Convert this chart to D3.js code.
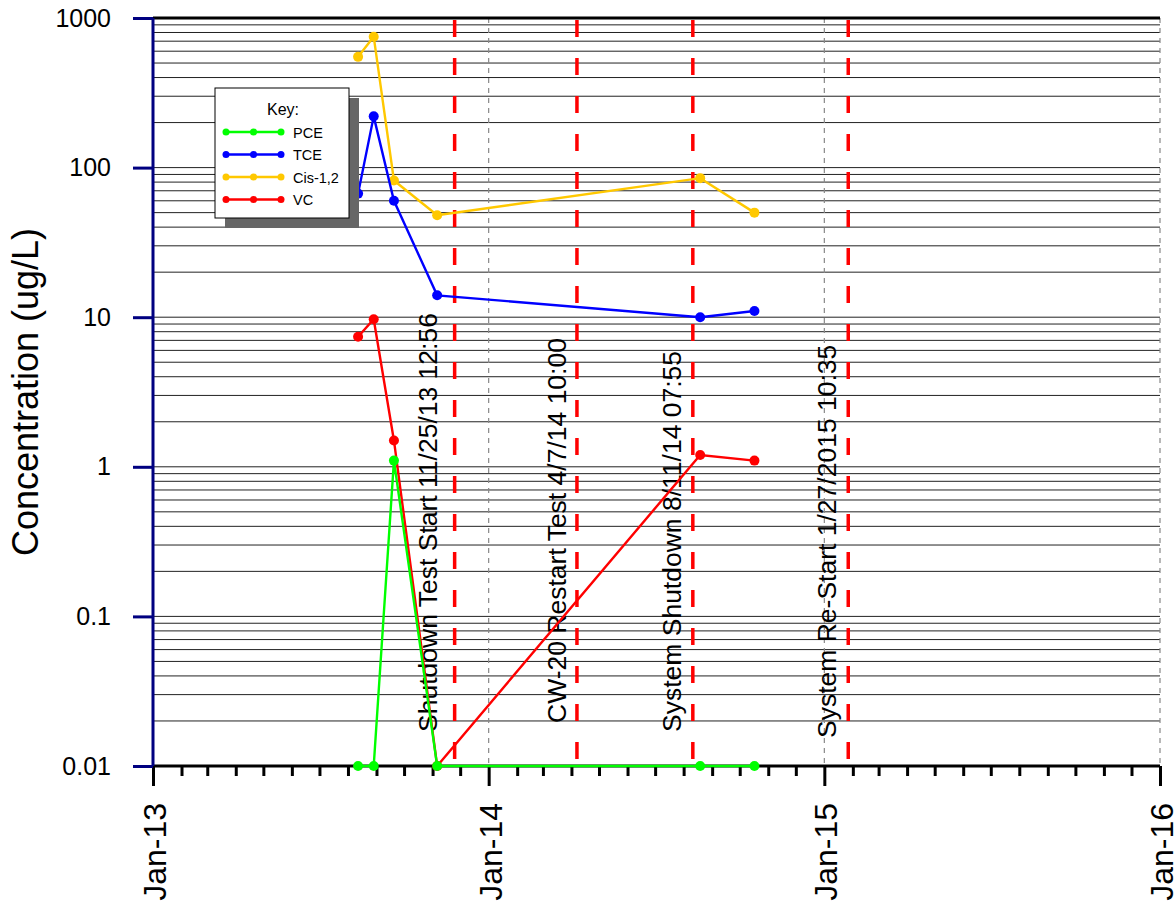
<!DOCTYPE html>
<html>
<head>
<meta charset="utf-8">
<title>Concentration</title>
<script src="https://cdn.jsdelivr.net/npm/d3@7"></script>
<style>
  body { margin: 0; background: #fff; }
  text { font-family: "Liberation Sans", Arial, sans-serif; fill: #000; }
</style>
</head>
<body>
<div id="chart"></div>
<script>
(function(d3) {
  'use strict';

  // sample dates and results (ug/L), 0.01 = non-detect
  var dates = ['2013-08-12', '2013-08-29', '2013-09-20', '2013-11-06', '2014-08-19', '2014-10-17'];
  var pce = [0.01, 0.01, 1.1, 0.01, 0.01, 0.01];
  var tce = [67, 220, 60, 14, 10, 11];
  var cis = [550, 750, 82, 48, 85, 50];
  var vc = [7.4, 9.7, 1.5, 0.01, 1.2, 1.1];

  var seriesNames = ['PCE', 'TCE', 'Cis-1,2', 'VC'];
  var seriesColors = ['#00ff00', '#0000ff', '#ffc800', '#ff0000'];

  var eventDates = ['2013-11-25', '2014-04-07', '2014-08-11', '2015-01-27'];
  var eventLabels = ['Shutdown Test Start 11/25/13 12:56', 'CW-20 Restart Test 4/7/14 10:00',
                     'System Shutdown 8/11/14 07:55', 'System Re-Start 1/27/2015 10:35'];

  var yTicks = [0.01, 0.1, 1, 10, 100, 1000];
  var yTickLabels = ['0.01', '0.1', '1', '10', '100', '1000'];
  var xTicks = ['2013-01-01', '2014-01-01', '2015-01-01', '2016-01-01'];
  var xTickLabels = ['Jan-13', 'Jan-14', 'Jan-15', 'Jan-16'];

  var width = 1175, height = 903;
  var left = 153, right = 1160, top = 18, bottom = 766;
  var parse = d3.timeParse('%Y-%m-%d');

  var svg = d3.select('#chart').append('svg')
    .attr('width', width)
    .attr('height', height);

  var x = d3.scaleTime()
    .domain([parse(xTicks[0]), parse(xTicks[3])])
    .range([left, right]);
  var y = d3.scaleLog()
    .domain([0.01, 1000])
    .range([bottom, top]);

  // horizontal grid: every 1..9 of each decade
  var gridVals = [];
  yTicks.slice(0, -1).forEach(function(t) {
    for (var k = 1; k < 10; k++) gridVals.push(t * k);
  });
  svg.append('g').selectAll('line')
    .data(gridVals)
    .enter().append('line')
    .attr('x1', left).attr('x2', right)
    .attr('y1', function(d) { return y(d); })
    .attr('y2', function(d) { return y(d); })
    .attr('stroke', '#222')
    .attr('stroke-width', 1);

  // year dashed lines
  svg.append('g').selectAll('line')
    .data(xTicks.slice(1))
    .enter().append('line')
    .attr('x1', function(d) { return x(parse(d)); })
    .attr('x2', function(d) { return x(parse(d)); })
    .attr('y1', top).attr('y2', bottom)
    .attr('stroke', '#888')
    .attr('stroke-width', 1.2)
    .attr('stroke-dasharray', '5,5');

  // top border
  svg.append('line')
    .attr('x1', left).attr('x2', right)
    .attr('y1', top).attr('y2', top)
    .attr('stroke', '#000').attr('stroke-width', 3);

  // event lines + labels
  var ev = svg.append('g').selectAll('g')
    .data(eventDates)
    .enter().append('g');
  ev.append('line')
    .attr('x1', function(d) { return x(parse(d)); })
    .attr('x2', function(d) { return x(parse(d)); })
    .attr('y1', top + 2).attr('y2', bottom)
    .attr('stroke', '#ff0000')
    .attr('stroke-width', 3.5)
    .attr('stroke-dasharray', '17,21');
  var labelShift = [18, 11, 12, 12];
  var labelBase = [732, 723, 732, 738];
  ev.append('text')
    .attr('transform', function(d, i) {
      return 'translate(' + (x(parse(d)) - labelShift[i]) + ',' + labelBase[i] + ') rotate(-90)';
    })
    .style('font-size', '26.5px')
    .text(function(d, i) { return eventLabels[i]; });

  // x axis (monthly ticks)
  var xAxis = d3.axisBottom(x)
    .tickValues(d3.timeMonth.range(parse(xTicks[0]), d3.timeDay.offset(parse(xTicks[3]), 1)))
    .tickSize(10)
    .tickFormat('');
  var gx = svg.append('g')
    .attr('transform', 'translate(0,' + bottom + ')')
    .call(xAxis);
  gx.select('.domain').remove();
  gx.selectAll('.tick line')
    .attr('stroke', '#000')
    .attr('stroke-width', 3)
    .attr('y2', function(d) { return d.getMonth() === 0 ? 20 : 10; });
  svg.append('line')
    .attr('x1', left).attr('x2', right)
    .attr('y1', bottom).attr('y2', bottom)
    .attr('stroke', '#000').attr('stroke-width', 3);

  svg.append('g').selectAll('text')
    .data(xTicks)
    .enter().append('text')
    .attr('transform', function(d) {
      return 'translate(' + (x(parse(d)) + 13) + ',' + 803 + ') rotate(-90)';
    })
    .attr('text-anchor', 'end')
    .style('font-size', '32px')
    .text(function(d, i) { return xTickLabels[i]; });

  // y axis
  var yAxis = d3.axisLeft(y)
    .tickValues(yTicks)
    .tickSize(20)
    .tickPadding(22)
    .tickFormat(function(d, i) { return yTickLabels[i]; });
  var gy = svg.append('g')
    .attr('transform', 'translate(' + left + ',0)')
    .call(yAxis);
  gy.select('.domain')
    .attr('stroke', '#000080')
    .attr('stroke-width', 3)
    .attr('d', 'M0,' + top + 'V' + bottom);
  gy.selectAll('.tick line')
    .attr('stroke', '#000080')
    .attr('stroke-width', 3);
  gy.selectAll('.tick text')
    .style('font-size', '25px')
    .style('font-family', '"Liberation Sans", Arial, sans-serif')
    .attr('fill', '#000');

  svg.append('text')
    .attr('transform', 'translate(38,392) rotate(-90)')
    .attr('text-anchor', 'middle')
    .style('font-size', '36px')
    .text('Concentration (ug/L)');

  // series
  var series = [vc, cis, tce, pce];
  var order = [3, 2, 1, 0];
  var line = d3.line()
    .x(function(d, i) { return x(parse(dates[i])); })
    .y(function(d) { return y(d); });

  series.forEach(function(vals, j) {
    var color = seriesColors[order[j]];
    var g = svg.append('g');
    g.append('path')
      .datum(vals)
      .attr('d', line)
      .attr('fill', 'none')
      .attr('stroke', color)
      .attr('stroke-width', 2.4);
    g.selectAll('circle')
      .data(vals)
      .enter().append('circle')
      .attr('cx', function(d, i) { return x(parse(dates[i])); })
      .attr('cy', function(d) { return y(d); })
      .attr('r', 5)
      .attr('fill', color);
  });

  // legend
  var lx = 215, ly = 88, lw = 134, lh = 130;
  var key = svg.append('g');
  key.append('rect')
    .attr('x', lx + 10).attr('y', ly + 10)
    .attr('width', lw).attr('height', lh)
    .attr('fill', '#666');
  key.append('rect')
    .attr('x', lx).attr('y', ly)
    .attr('width', lw).attr('height', lh)
    .attr('fill', '#fff')
    .attr('stroke', '#000')
    .attr('stroke-width', 1);
  key.append('text')
    .attr('x', lx + 68).attr('y', ly + 27)
    .attr('text-anchor', 'middle')
    .style('font-size', '16px')
    .text('Key:');
  var item = key.selectAll('.legend')
    .data(seriesNames)
    .enter().append('g')
    .attr('class', 'legend')
    .attr('transform', function(d, i) {
      return 'translate(' + (lx + 11) + ',' + (ly + 44 + i * 22.5) + ')';
    });
  item.append('line')
    .attr('x1', 0).attr('x2', 55)
    .attr('stroke', function(d, i) { return seriesColors[i]; })
    .attr('stroke-width', 2.4);
  item.selectAll('circle')
    .data(function(d, i) { return [0, 27.5, 55].map(function(c) { return { c: c, i: i }; }); })
    .enter().append('circle')
    .attr('cx', function(d) { return d.c; })
    .attr('r', 3.5)
    .attr('fill', function(d) { return seriesColors[d.i]; });
  item.append('text')
    .attr('x', 67).attr('y', 5.5)
    .style('font-size', '14.5px')
    .text(function(d) { return d; });

})(window.d3);
</script>
</body>
</html>
